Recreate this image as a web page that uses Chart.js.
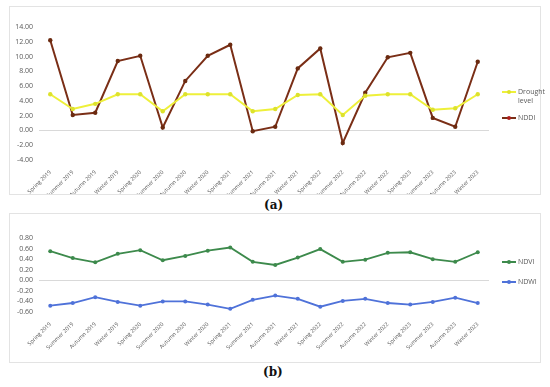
<!DOCTYPE html>
<html>
<head>
<meta charset="utf-8">
<script src="https://cdn.jsdelivr.net/npm/chart.js@4"></script>
<style>
  body { margin: 0; background: #fff; width: 550px; height: 387px; position: relative; overflow: hidden; font-family: "Open Sans", sans-serif; }
  .panel { position: absolute; left: 9px; width: 532px; border: 1px solid #e3e3e3; box-sizing: border-box; }
  .panel canvas { position: absolute; left: 0; top: 0; }
  .cap { position: absolute; font-family: "DejaVu Serif", serif; font-weight: bold; font-size: 12px; color: #111; }
  .leg { position: absolute; font-size: 7px; color: #595959; line-height: 9px; }
  .leg .sw { position: absolute; left: 0; width: 14px; height: 2px; }
  .leg .dot { position: absolute; left: 5px; width: 4px; height: 4px; border-radius: 2px; }
  .leg .tx { position: absolute; left: 16px; white-space: nowrap; }
</style>
</head>
<body>
<div class="panel" style="top:6px;height:189px"><canvas id="chartA" width="530" height="187"></canvas></div>
<div class="cap" style="left:264px;top:198px">(a)</div>
<div class="panel" style="top:213px;height:150px"><canvas id="chartB" width="530" height="148"></canvas></div>
<div class="cap" style="left:263px;top:365px">(b)</div>

<div class="leg" style="left:502px;top:87px">
  <div class="sw" style="top:4px;background:#eef03a"></div><div class="dot" style="top:3px;background:#dde22c"></div>
  <div class="tx" style="top:0">Drought<br>level</div>
</div>
<div class="leg" style="left:502px;top:113px">
  <div class="sw" style="top:4px;background:#7a2e16"></div><div class="dot" style="top:3px;background:#b01e1e"></div>
  <div class="tx" style="top:0">NDDI</div>
</div>
<div class="leg" style="left:502px;top:257px">
  <div class="sw" style="top:4px;background:#3d8a4c"></div><div class="dot" style="top:3px;background:#3d8a4c"></div>
  <div class="tx" style="top:0">NDVI</div>
</div>
<div class="leg" style="left:502px;top:277px">
  <div class="sw" style="top:4px;background:#4f72d9"></div><div class="dot" style="top:3px;background:#4f72d9"></div>
  <div class="tx" style="top:0">NDWI</div>
</div>

<script>
const seasons = [
  "Spring 2019", "Summer 2019", "Autumn 2019", "Winter 2019",
  "Spring 2020", "Summer 2020", "Autumn 2020", "Winter 2020",
  "Spring 2021", "Summer 2021", "Autumn 2021", "Winter 2021",
  "Spring 2022", "Summer 2022", "Autumn 2022", "Winter 2022",
  "Spring 2023", "Summer 2023", "Autumn 2023", "Winter 2023"
];
const droughtLevel = [4.9, 2.9, 3.6, 4.9, 4.9, 2.6, 4.9, 4.9, 4.9, 2.6, 2.9, 4.8, 4.9, 2.1, 4.7, 4.9, 4.9, 2.8, 3.0, 4.9];
const nddi = [12.2, 2.1, 2.4, 9.4, 10.1, 0.4, 6.7, 10.1, 11.6, -0.1, 0.5, 8.4, 11.1, -1.7, 5.1, 9.9, 10.5, 1.7, 0.5, 9.3];
const ndvi = [0.55, 0.42, 0.34, 0.50, 0.57, 0.38, 0.46, 0.56, 0.62, 0.35, 0.29, 0.43, 0.59, 0.35, 0.39, 0.52, 0.53, 0.40, 0.35, 0.53];
const ndwi = [-0.48, -0.43, -0.32, -0.41, -0.48, -0.40, -0.40, -0.46, -0.54, -0.37, -0.29, -0.35, -0.50, -0.39, -0.35, -0.43, -0.46, -0.41, -0.33, -0.43];

const yFont = { family: "'Open Sans', sans-serif", size: 7 };
const xFont = { family: "'Open Sans', sans-serif", size: 5.5 };

function makeOptions(min, max, step, yWidth, xHeight, padTop) {
  return {
    responsive: false,
    animation: false,
    layout: { padding: { left: 0, right: 51, top: padTop, bottom: 0 } },
    plugins: { legend: { display: false }, tooltip: { enabled: false } },
    scales: {
      x: {
        offset: true,
        grid: { display: false },
        border: { display: false },
        ticks: { color: "#595959", font: xFont, maxRotation: 45, minRotation: 45, autoSkip: false, padding: 1 },
        afterFit: function (s) { s.height = xHeight; }
      },
      y: {
        min: min, max: max,
        border: { display: false },
        grid: {
          color: function (c) { return c.tick && Math.abs(c.tick.value) < 1e-9 ? "#d9d9d9" : "transparent"; },
          lineWidth: 1, drawTicks: false
        },
        ticks: { stepSize: step, autoSkip: false, color: "#595959", font: yFont, padding: 6,
                 callback: function (v) { return Number(v).toFixed(2); } },
        afterFit: function (s) { s.width = yWidth; }
      }
    }
  };
}

new Chart(document.getElementById("chartA"), {
  type: "line",
  data: {
    labels: seasons,
    datasets: [
      { label: "Drought level", data: droughtLevel, borderColor: "#eef03a", backgroundColor: "#dde22c",
        borderWidth: 2, pointRadius: 2.2, pointBorderWidth: 0, tension: 0 },
      { label: "NDDI", data: nddi, borderColor: "#7a2e16", backgroundColor: "#6b2a10",
        borderWidth: 2, pointRadius: 2.2, pointBorderWidth: 0, tension: 0 }
    ]
  },
  options: makeOptions(-4, 14, 2, 29, 34, 20)
});

new Chart(document.getElementById("chartB"), {
  type: "line",
  data: {
    labels: seasons,
    datasets: [
      { label: "NDVI", data: ndvi, borderColor: "#3d8a4c", backgroundColor: "#3d8a4c",
        borderWidth: 1.8, pointRadius: 2, pointBorderWidth: 0, tension: 0 },
      { label: "NDWI", data: ndwi, borderColor: "#4f72d9", backgroundColor: "#4f72d9",
        borderWidth: 1.8, pointRadius: 2, pointBorderWidth: 0, tension: 0 }
    ]
  },
  options: makeOptions(-0.6, 0.8, 0.2, 29, 50, 24)
});
</script>
</body>
</html>
